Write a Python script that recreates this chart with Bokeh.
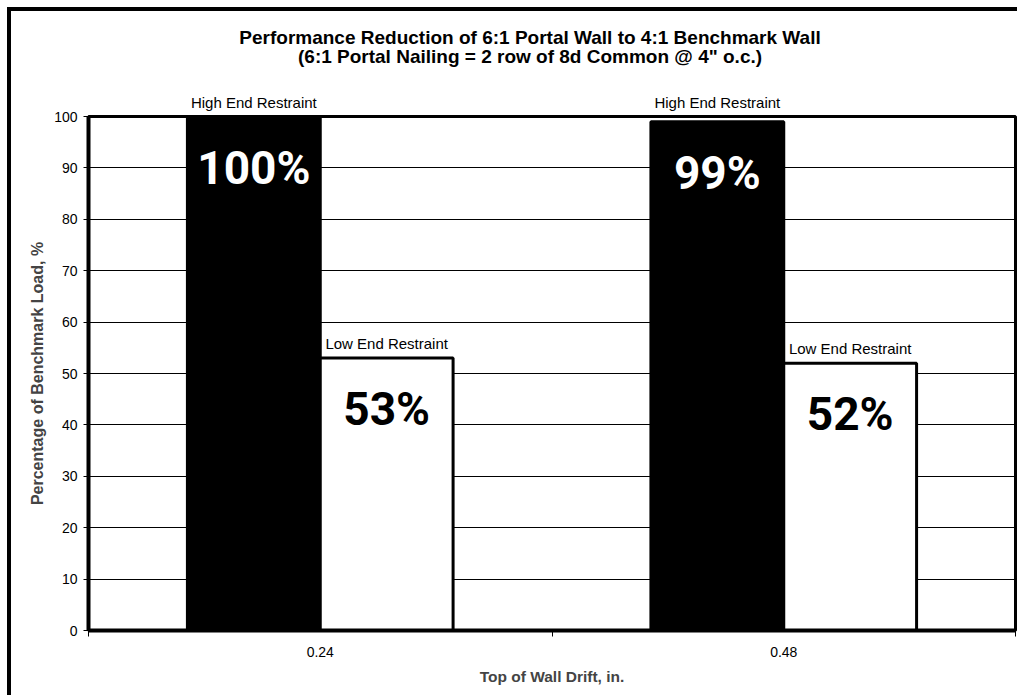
from bokeh.plotting import figure
from bokeh.models import (Range1d, FixedTicker, ColumnDataSource, LabelSet, LinearAxis)
from bokeh.core.properties import value
from bokeh.embed import file_html
from bokeh.resources import INLINE

categories = ["0.24", "0.48"]
series_names = ["High End Restraint", "Low End Restraint"]
high_end = [100, 99]
low_end = [53, 52]

title_lines = ["Performance Reduction of 6:1 Portal Wall to 4:1 Benchmark Wall",
               "(6:1 Portal Nailing = 2 row of 8d Common @ 4\" o.c.)"]
x_title = "Top of Wall Drift, in."
y_title = "Percentage of Benchmark Load, %"

W, H = 1010, 688
FONT = "Liberation Sans"
BIG_FONT = "Roboto"

p = figure(width=W, height=H, output_backend="svg", toolbar_location=None,
           x_range=Range1d(0, 2), y_range=Range1d(0, 100), title_location=None,
           min_border_left=77, min_border_right=6, min_border_top=105,
           min_border_bottom=69)
# outer chart border (its left and top edges are what the window shows)
p.styles = {"margin-left": "7px", "margin-top": "7px",
            "border-left": "4px solid black", "border-top": "4px solid black"}
p.background_fill_color = "white"
p.border_fill_color = "white"
p.outline_line_color = "black"
p.outline_line_width = 3

bw = 0.2866
n = len(categories)
centers = [i + 0.5 for i in range(n)]
hx = [c - bw / 2 for c in centers]
lx = [c + bw / 2 for c in centers]

src_h = ColumnDataSource(dict(x=hx, top=high_end, pct=[f"{v}%" for v in high_end]))
src_l = ColumnDataSource(dict(x=lx, top=low_end, pct=[f"{v}%" for v in low_end],
                              name=[series_names[1]] * n,
                              ly=[v + 2.8 for v in low_end]))

p.vbar(x="x", top="top", width=bw, bottom=0, source=src_h,
       fill_color="black", line_color="black", line_width=3)
p.vbar(x="x", top="top", width=bw, bottom=0, source=src_l,
       fill_color="white", line_color="black", line_width=3)

# big percent labels inside bars
p.text(x="x", y="top", text="pct", source=src_h, y_offset=51,
       text_font=value(BIG_FONT), text_font_style="bold",
       text_font_size="46px", text_color="white",
       text_align="center", text_baseline="middle")
p.text(x="x", y="top", text="pct", source=src_l, y_offset=51,
       text_font=value(BIG_FONT), text_font_style="bold",
       text_font_size="46px", text_color="black",
       text_align="center", text_baseline="middle")

# "Low End Restraint" labels above the white bars
p.add_layout(LabelSet(x="x", y="ly", text="name", source=src_l,
                      text_font=value(FONT), text_font_size="15px", text_color="black",
                      text_align="center", text_baseline="middle"))

# grid
p.xgrid.visible = False
p.ygrid.ticker = FixedTicker(ticks=list(range(0, 101, 10)))
p.ygrid.grid_line_color = "black"
p.ygrid.grid_line_width = 1

# y axis
ya = p.left[0]
ya.ticker = FixedTicker(ticks=list(range(0, 101, 10)), minor_ticks=[])
ya.axis_line_width = 4
ya.axis_line_color = "black"
ya.major_tick_out = 5
ya.major_tick_in = 0
ya.major_tick_line_width = 1
ya.minor_tick_line_color = None
ya.major_label_standoff = 6
ya.major_label_text_font = FONT
ya.major_label_text_font_size = "14px"
ya.major_label_text_color = "black"
ya.axis_label = y_title
ya.axis_label_text_font = FONT
ya.axis_label_text_font_style = "bold"
ya.axis_label_text_font_size = "16px"
ya.axis_label_standoff = 5

# x axis (bottom)
xa = p.below[0]
xa.ticker = FixedTicker(ticks=centers, minor_ticks=[0, 1, 2])
xa.major_label_overrides = {c: lab for c, lab in zip(centers, categories)}
xa.axis_line_width = 4
xa.axis_line_color = "black"
xa.major_tick_line_color = None
xa.major_tick_out = 0
xa.major_tick_in = 0
xa.minor_tick_out = 6
xa.minor_tick_in = 0
xa.minor_tick_line_width = 1
xa.minor_tick_line_color = "black"
xa.major_label_standoff = 10
xa.major_label_text_font = FONT
xa.major_label_text_font_size = "14px"
xa.major_label_text_color = "black"
xa.axis_label = x_title
xa.axis_label_text_font = FONT
xa.axis_label_text_font_style = "bold"
xa.axis_label_text_font_size = "15.5px"
xa.axis_label_standoff = 8

# "High End Restraint" labels above the plot area (top axis used as label row)
top_ax = LinearAxis(ticker=FixedTicker(ticks=hx, minor_ticks=[]),
                    major_label_overrides={x: series_names[0] for x in hx},
                    axis_line_color=None, major_tick_line_color=None,
                    minor_tick_line_color=None, major_tick_out=0, major_tick_in=0,
                    major_label_standoff=6, major_label_text_font=FONT,
                    major_label_text_font_size="15px", major_label_text_color="black")
p.add_layout(top_ax, "above")

# two-line chart title, centred over the whole chart (outer label row)
title_x = 0.9526
title_ax = LinearAxis(ticker=FixedTicker(ticks=[title_x], minor_ticks=[]),
                      major_label_overrides={title_x: "\n".join(title_lines)},
                      axis_line_color=None, major_tick_line_color=None,
                      minor_tick_line_color=None, major_tick_out=0, major_tick_in=0,
                      major_label_standoff=24, major_label_text_font=FONT,
                      major_label_text_font_style="bold",
                      major_label_text_font_size="19px",
                      major_label_text_line_height=0.9,
                      major_label_text_color="black")
p.add_layout(title_ax, "above")

open("out.html", "w").write(file_html(p, INLINE))
